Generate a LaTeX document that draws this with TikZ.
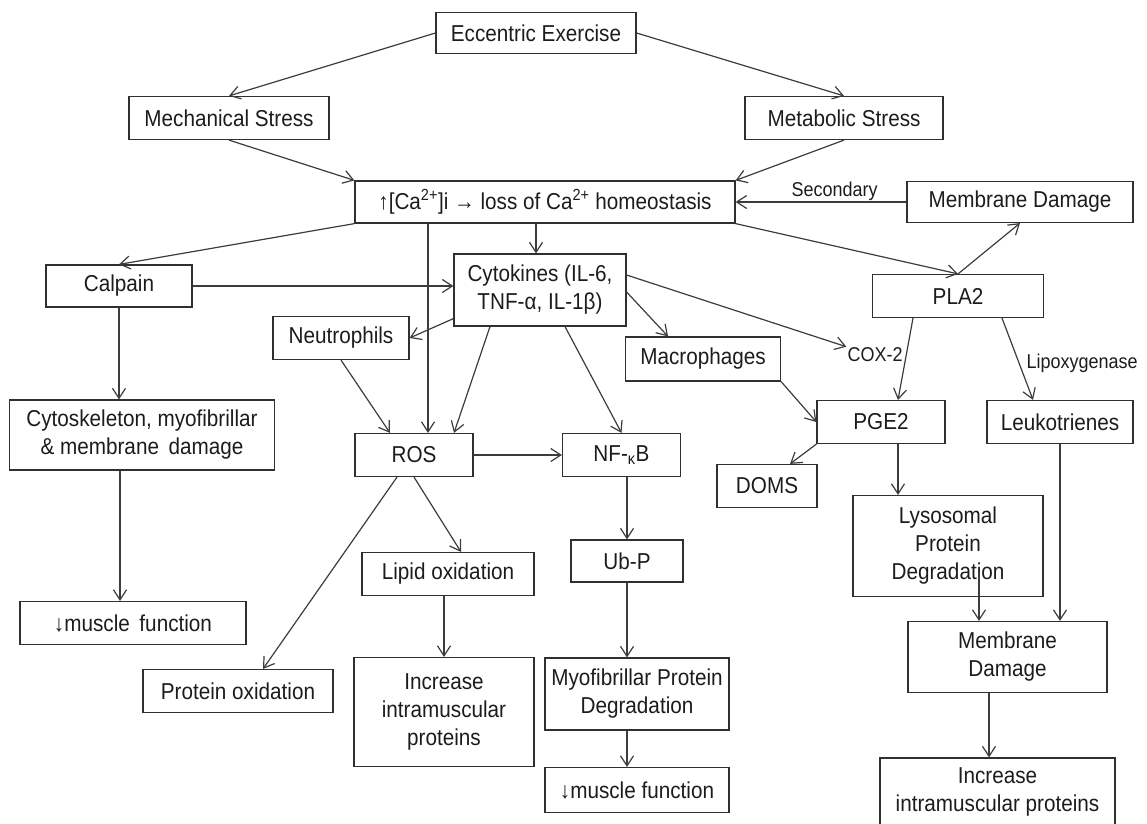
\documentclass[tikz,border=0pt]{standalone}
\usepackage{fontspec}
\setmainfont{Liberation Sans}[FakeStretch=0.9]
\usetikzlibrary{arrows.meta}
\definecolor{boxline}{HTML}{303030}
\definecolor{arrowline}{HTML}{3C3C3C}
\definecolor{inktext}{HTML}{1C1C1C}

\begin{document}
\begin{tikzpicture}[x=1pt, y=-1pt,
    box/.style={draw=boxline, line width=1.2pt, text=inktext, align=center,
        inner sep=2pt, font=\fontsize{23}{28}\selectfont},
    lbl/.style={text=inktext, inner sep=1pt, font=\fontsize{20}{24}\selectfont},
    arr/.style={arrowline, line width=1.2pt, -{Straight Barb[length=10pt, width=13pt]}}]

    \useasboundingbox (0,0) rectangle (1147,823);

    % Top levels
        %% exercise and stresses
        \node [box, minimum width=200pt, minimum height=41pt] (ecc) at (536,33) {Eccentric Exercise};
        \node [box, minimum width=200pt, minimum height=43pt] (mech) at (229,118) {Mechanical Stress};
        \node [box, minimum width=198pt, minimum height=43pt] (meta) at (844,118) {Metabolic Stress};

        %% calcium
        \node [box, minimum width=380pt, minimum height=42pt] (ca) at (545,202)
            {↑[Ca\textsuperscript{2+}]i → loss of Ca\textsuperscript{2+} homeostasis};
        \node [box, minimum width=226pt, minimum height=41pt] (memtop) at (1020,202) {Membrane Damage};

    % Second level
        \node [box, minimum width=146pt, minimum height=42pt] (calpain) at (119,286) {Calpain};
        \node [box, minimum width=172pt, minimum height=72pt] (cyto) at (540,290)
            {Cytokines (IL-6,\\TNF-α, IL-1β)};
        \node [box, minimum width=171pt, minimum height=43pt] (pla2) at (958,296) {PLA2};
        \node [box, minimum width=136pt, minimum height=43pt] (neutro) at (341,338) {Neutrophils};
        \node [box, minimum width=155pt, minimum height=44pt] (macro) at (703,359) {Macrophages};
        \node [lbl] (cox) at (875,355) {COX-2};

    % Third level
        \node [box, minimum width=265pt, minimum height=70pt] (cytosk) at (142,435)
            {Cytoskeleton, myofibrillar\\\& membrane\, damage};
        \node [box, minimum width=118pt, minimum height=43pt] (ros) at (414,455) {ROS};
        \node [box, minimum width=118pt, minimum height=43pt] (nfkb) at (621.5,455) {NF-\textsubscript{κ}B};
        \node [box, minimum width=128pt, minimum height=43pt] (pge2) at (881,422) {PGE2};
        \node [box, minimum width=146pt, minimum height=43pt] (leuko) at (1060,422) {Leukotrienes};
        \node [box, minimum width=100pt, minimum height=43pt] (doms) at (767,486) {DOMS};
        \node [box, minimum width=190pt, minimum height=101pt] (lyso) at (948,546)
            {Lysosomal\\Protein\\Degradation};

    % Bottom levels
        \node [box, minimum width=112pt, minimum height=42pt] (ubp) at (627,561) {Ub-P};
        \node [box, minimum width=172pt, minimum height=43pt] (lipid) at (448,574) {Lipid oxidation};
        \node [box, minimum width=226pt, minimum height=43pt] (mfl) at (133,623) {↓muscle\, function};
        \node [box, minimum width=190pt, minimum height=43pt] (protox) at (238,691) {Protein oxidation};
        \node [box, minimum width=180pt, minimum height=109pt] (incmid) at (444,712)
            {Increase\\intramuscular\\proteins};
        \node [box, minimum width=184pt, minimum height=72pt] (myofib) at (637,694)
            {Myofibrillar Protein\\Degradation};
        \node [box, minimum width=184pt, minimum height=45pt] (mfm) at (637,790) {↓muscle function};
        \node [box, minimum width=199pt, minimum height=71pt] (membot) at (1007.5,657)
            {Membrane\\Damage};
        \node [box, minimum width=235pt, minimum height=100pt] (incright) at (997.5,808)
            {Increase\\intramuscular proteins\\\strut};

    % Connectors
        %% top
        \draw [arr] (ecc.west) -- (mech.north);
        \draw [arr] (ecc.east) -- (meta.north);
        \draw [arr] (mech.south) -- (ca.north west);
        \draw [arr] (meta.south) -- (ca.north east);
        \draw [arr] (memtop.west) -- node [lbl, above, pos=0.42] {Secondary} (ca.east);

        %% out of calcium
        \draw [arr] (ca.south west) -- (calpain.north);
        \draw [arr] ([xshift=-117pt]ca.south) -- ([xshift=14pt]ros.north);
        \draw [arr] ([xshift=-9pt]ca.south) -- ([xshift=-4pt]cyto.north);
        \draw [arr] (ca.south east) -- (pla2.north);
        \draw [arr] (pla2.north) -- (memtop.south);

        %% calpain
        \draw [arr] (calpain.east) -- ([yshift=4pt]cyto.west);
        \draw [arr] (calpain.south) -- ([xshift=-23pt]cytosk.north);
        \draw [arr] ([xshift=-22pt]cytosk.south) -- ([xshift=-13pt]mfl.north);

        %% cytokines
        \draw [arr] ([yshift=8pt]cyto.south west) -- (neutro.east);
        \draw [arr] ([xshift=-50pt]cyto.south) -- ([xshift=40pt]ros.north);
        \draw [arr] ([xshift=25pt]cyto.south) -- (nfkb.north);
        \draw [arr] ([yshift=-2pt]cyto.east) -- ([xshift=-35pt]macro.north);
        \draw [arr] ([yshift=15pt]cyto.east) -- (cox.north west);

        %% PLA2 branch
        \draw [arr] ([xshift=-45pt]pla2.south) -- ([xshift=17pt]pge2.north);
        \draw [arr] ([xshift=44pt]pla2.south) -- node [lbl, right=6pt, pos=0.55] {Lipoxygenase}
            ([xshift=-27pt]leuko.north);
        \draw [arr] (macro.south east) -- (pge2.west);
        \draw [arr] (pge2.south west) -- ([xshift=23pt]doms.north);
        \draw [arr] ([xshift=17pt]pge2.south) -- ([xshift=-50pt]lyso.north);
        \draw [arr] ([xshift=31pt, yshift=24pt]lyso.south) -- ([xshift=-28.5pt]membot.north);
        \draw [arr] (leuko.south) -- ([xshift=52.5pt]membot.north);
        \draw [arr] ([xshift=-18.5pt]membot.south) -- ([xshift=-8.5pt]incright.north);

        %% ROS and NF-kB
        \draw [arr] (neutro.south) -- ([xshift=-24pt]ros.north);
        \draw [arr] (ros.east) -- (nfkb.west);
        \draw [arr] ([xshift=-17pt]ros.south) -- ([xshift=25pt]protox.north);
        \draw [arr] (ros.south) -- ([xshift=13pt]lipid.north);
        \draw [arr] ([xshift=-4pt]lipid.south) -- (incmid.north);
        \draw [arr] ([xshift=5.5pt]nfkb.south) -- (ubp.north);
        \draw [arr] (ubp.south) -- ([xshift=-10pt]myofib.north);
        \draw [arr] ([xshift=-10pt]myofib.south) -- ([xshift=-10pt]mfm.north);

\end{tikzpicture}
\end{document}
